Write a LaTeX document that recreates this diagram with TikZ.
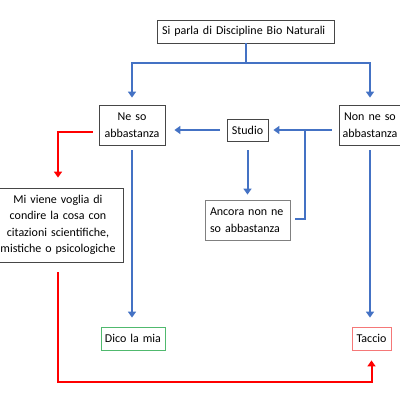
\documentclass[tikz,border=0pt]{standalone}
\usepackage{fontspec}
\setmainfont{Carlito}
\usetikzlibrary{arrows.meta}
\definecolor{flowblue}{RGB}{68,114,196}
\definecolor{boxgreen}{RGB}{80,185,110}
\definecolor{boxpink}{RGB}{245,120,120}
\definecolor{boxgray}{RGB}{70,70,70}

\begin{document}
\begin{tikzpicture}[x=1pt, y=-1pt,
    box/.style={draw=boxgray, line width=0.8pt, inner sep=0pt, align=center,
        font=\fontsize{12}{16.5}\selectfont},
    blueline/.style={draw=flowblue, line width=2pt},
    bluearrow/.style={blueline, -{Triangle[width=8pt,length=6pt]}},
    redarrow/.style={draw=red, line width=2pt, -{Triangle[width=8pt,length=6pt]}}]
    \useasboundingbox (0,0) rectangle (400,400);
    % Top
    \node[box, text width=167pt, inner xsep=5pt, minimum height=23pt, align=left] (Top) at (245.5,31.5) {Si parla di Discipline Bio Naturali};
    % Middle row
    \node[box, text width=66pt, minimum height=40pt] (NeSo) at (132,125) {Ne so\\abbastanza};
    \node[box, text width=62pt, minimum height=40pt] (NonNeSo) at (370,125) {Non ne so\\abbastanza};
    \node[box, text width=41pt, minimum height=22pt] (Studio) at (247.5,130) {Studio};
    \node[box, draw=gray, text width=75pt, inner xsep=5pt, minimum height=40pt, align=left] (Ancora) at (247.5,220) {Ancora non ne\\so abbastanza};
    \node[box, text width=130pt, minimum height=74pt] (Voglia) at (58,225) {Mi viene voglia di\\condire la cosa con\\citazioni scientifiche,\\mistiche o psicologiche};
    % Bottom row
    \node[box, draw=boxgreen, text width=64pt, minimum height=23pt] (Dico) at (133,338.5) {Dico la mia};
    \node[box, draw=boxpink, text width=39pt, minimum height=23pt] (Taccio) at (371.5,338.5) {Taccio};
    % Blue arrows
    \coordinate (Split) at (245.5,63);
    \coordinate (Join) at (305,130);
    \draw[blueline] (Top.south) -- (Split);
    \foreach \to in {NeSo,NonNeSo} {
        \draw[bluearrow, shorten >=7pt] (Split) -| (\to.north);
    }
    \draw[bluearrow, shorten <=7pt, shorten >=5pt] (NonNeSo.west |- Studio.east) -- (Studio.east);
    \draw[bluearrow, shorten <=7pt, shorten >=9pt] (Studio.west) -- (NeSo.east |- Studio.west);
    \draw[blueline, shorten <=5pt] ([yshift=1pt]Ancora.east) -| (Join);
    \draw[bluearrow, shorten <=9pt, shorten >=5pt] (Studio.south) -- (Ancora.north);
    \draw[bluearrow, shorten <=5pt, shorten >=9pt] (NeSo.south) -- (NeSo.south |- Dico.north);
    \draw[bluearrow, shorten <=5pt, shorten >=9pt] (NonNeSo.south) -- (NonNeSo.south |- Taccio.north);
    % Red arrows
    \draw[redarrow, shorten <=6pt, shorten >=10pt] ([yshift=-7pt]NeSo.west) -| (Voglia.north);
    \draw[redarrow, shorten <=10pt, shorten >=10pt] (Voglia.south) -- ++(0,120) -| (Taccio.south);
\end{tikzpicture}
\end{document}
